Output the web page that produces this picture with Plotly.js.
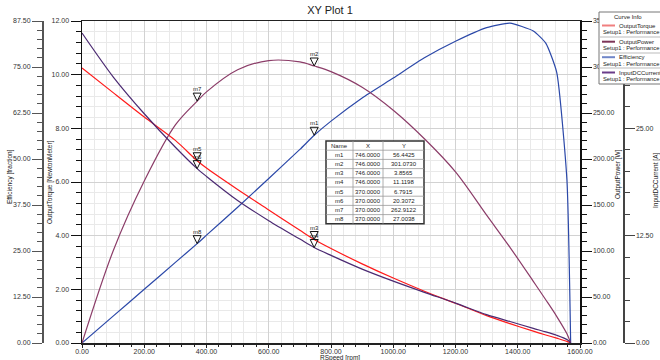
<!DOCTYPE html>
<html>
<head>
<meta charset="utf-8">
<script src="https://cdn.plot.ly/plotly-3.0.1.min.js"></script>
<style>
  html, body { margin: 0; padding: 0; background: #ffffff; }
  #chart { width: 660px; height: 360px; }
</style>
</head>
<body>
<div id="chart"></div>
<script>
// ---------- data ----------
const speed = [0, 100, 200, 300, 370, 400, 500, 600, 700, 746, 800, 900, 1000, 1100, 1200, 1300, 1375, 1450, 1490, 1525, 1558, 1570];
const outputTorque = [10.25, 9.33, 8.42, 7.55, 6.7915, 6.52, 5.72, 4.96, 4.20, 3.8565, 3.52, 2.95, 2.42, 1.93, 1.48, 1.02, 0.72, 0.44, 0.30, 0.18, 0.06, 0];
const outputPower = [0, 100, 176, 237, 262.9122, 273, 297, 307, 305.5, 301.0730, 295, 278, 253, 222, 186, 139, 104, 67, 47, 29, 10, 0];
const efficiency = [0, 7.3, 14.6, 21.9, 27.0038, 29.3, 36.9, 44.7, 52.6, 56.4425, 60.3, 66.6, 72.0, 77.5, 82.0, 85.7, 86.9, 84.8, 81.5, 73.6, 44.3, 0];
const inputDCCurrent = [36.1, 31.0, 26.7, 22.8, 20.3072, 19.4, 16.6, 14.25, 12.1, 11.1198, 10.2, 8.6, 7.2, 5.9, 4.65, 3.3, 2.5, 1.7, 1.3, 0.9, 0.4, 0];

const markerNames = ['m1', 'm2', 'm3', 'm4', 'm5', 'm6', 'm7', 'm8'];
const markerX = [746, 746, 746, 746, 370, 370, 370, 370];
const markerY = [56.4425, 301.0730, 3.8565, 11.1198, 6.7915, 20.3072, 262.9122, 27.0038];
const markerAxis = ['y2', 'y3', 'y', 'y4', 'y', 'y4', 'y3', 'y2'];
const tableHeader = ['Name', 'X', 'Y'];

const seriesNames = ['OutputTorque', 'OutputPower', 'Efficiency', 'InputDCCurrent'];
const setupLabel = 'Setup1 : Performance';
const seriesColors = ['#ff1a1a', '#8b3c68', '#2b48a8', '#4b2a72'];
const legendSwatchColors = ['#f07f7f', '#7d3558', '#6f86c8', '#6a3d8a'];

// ---------- helpers (pixel -> paper) ----------
const W = 660, PT = 21, PB = 343;
const px = v => v / W;
const py = v => (PB - v) / (PB - PT);

const FONT = 'Liberation Sans, Arial, sans-serif';

const traces = [
  {x: speed, y: outputTorque, yaxis: 'y', name: seriesNames[0], type: 'scatter', mode: 'lines', line: {color: seriesColors[0], width: 1.2, shape: 'spline', smoothing: 0.8}},
  {x: speed, y: outputPower, yaxis: 'y3', name: seriesNames[1], type: 'scatter', mode: 'lines', line: {color: seriesColors[1], width: 1.2, shape: 'spline', smoothing: 0.9}},
  {x: speed, y: efficiency, yaxis: 'y2', name: seriesNames[2], type: 'scatter', mode: 'lines', line: {color: seriesColors[2], width: 1.2, shape: 'spline', smoothing: 0.5}},
  {x: speed, y: inputDCCurrent, yaxis: 'y4', name: seriesNames[3], type: 'scatter', mode: 'lines', line: {color: seriesColors[3], width: 1.2, shape: 'spline', smoothing: 0.8}}
];

const tickFont = {family: FONT, size: 7, color: '#333'};
const commonY = {
  showline: true, ticks: 'outside', ticklen: 10, tickwidth: 1, zeroline: false,
  tickformat: '.2f', tickfont: tickFont, fixedrange: true
};

const layout = {
  width: 660, height: 360,
  margin: {l: 0, r: 0, t: PT, b: 360 - PB, pad: 0},
  paper_bgcolor: '#ffffff', plot_bgcolor: '#ffffff',
  showlegend: false,
  font: {family: FONT, size: 7, color: '#222'},
  title: {text: 'XY Plot 1', font: {family: FONT, size: 11, color: '#222'}, x: 0.5, xref: 'container', y: 1 - 10 / 360, yref: 'container', yanchor: 'middle'},
  xaxis: {
    domain: [px(82), px(580)], range: [0, 1600], dtick: 200, tickformat: '.2f',
    showline: true, linecolor: '#222', linewidth: 1.5, mirror: true,
    ticks: 'outside', ticklen: 3, tickcolor: '#222', zeroline: false,
    ticklabelstandoff: -2,
    showgrid: true, gridcolor: '#d2d2d2', gridwidth: 1,
    minor: {dtick: 40, ticks: 'outside', ticklen: 2, tickcolor: '#222', showgrid: true, gridcolor: '#e9e9e9', gridwidth: 1},
    tickfont: tickFont, fixedrange: true
  },
  yaxis: Object.assign({}, commonY, {
    range: [0, 12], dtick: 2, anchor: 'x', side: 'left',
    linecolor: '#111', linewidth: 1.5, tickcolor: '#111',
    showgrid: true, gridcolor: '#d2d2d2',
    minor: {dtick: 0.4, ticks: 'outside', ticklen: 5, tickcolor: '#111', showgrid: true, gridcolor: '#e9e9e9'}
  }),
  yaxis2: Object.assign({}, commonY, {
    range: [0, 87.5], dtick: 12.5, overlaying: 'y', anchor: 'free', position: px(43), side: 'left',
    linecolor: '#555', linewidth: 2, tickcolor: '#555', showgrid: false,
    minor: {dtick: 2.5, ticks: 'outside', ticklen: 5, tickcolor: '#555', showgrid: false}
  }),
  yaxis3: Object.assign({}, commonY, {
    range: [0, 350], dtick: 50, overlaying: 'y', anchor: 'x', side: 'right',
    linecolor: '#111', linewidth: 1.5, tickcolor: '#111', showgrid: false,
    minor: {dtick: 10, ticks: 'outside', ticklen: 5, tickcolor: '#111', showgrid: false}
  }),
  yaxis4: Object.assign({}, commonY, {
    range: [0, 37.5], dtick: 12.5, overlaying: 'y', anchor: 'free', position: px(623), side: 'right',
    linecolor: '#444', linewidth: 1.5, tickcolor: '#444', showgrid: false,
    minor: {dtick: 2.5, ticks: 'outside', ticklen: 5, tickcolor: '#444', showgrid: false}
  }),
  shapes: [],
  annotations: []
};

// axis titles
const axisTitles = [
  {text: 'Efficiency [fraction]', x: 10, y: 177},
  {text: 'OutputTorque [NewtonMeter]', x: 50, y: 182},
  {text: 'OutputPower [W]', x: 618, y: 174},
  {text: 'InputDCCurrent [A]', x: 656, y: 181}
];
axisTitles.forEach(t => layout.annotations.push({
  text: t.text, xref: 'paper', yref: 'paper', x: px(t.x), y: py(t.y), textangle: -90,
  showarrow: false, xanchor: 'center', yanchor: 'middle', font: {family: FONT, size: 6.5, color: '#222'}
}));
layout.annotations.push({
  text: 'RSpeed [rpm]', xref: 'paper', yref: 'paper', x: px(340), y: py(357.5),
  showarrow: false, xanchor: 'center', yanchor: 'middle', font: {family: FONT, size: 6.5, color: '#222'}
});

// marker triangles + labels
markerNames.forEach((n, i) => {
  layout.shapes.push({
    type: 'path', layer: 'above', xref: 'x', yref: markerAxis[i],
    xsizemode: 'pixel', ysizemode: 'pixel', xanchor: markerX[i], yanchor: markerY[i],
    path: 'M -4,8 L 4,8 L 0,0 Z', line: {color: '#111', width: 1}, fillcolor: 'rgba(0,0,0,0)'
  });
  layout.annotations.push({
    text: n, xref: 'x', yref: markerAxis[i], x: markerX[i], y: markerY[i], yshift: 12,
    showarrow: false, xanchor: 'center', yanchor: 'middle', font: {family: FONT, size: 6, color: '#222'}
  });
});

// marker table (Name / X / Y)
const colEdges = [326, 353, 383, 424];
const tTop = 141, rowH = 9.2, nRows = markerNames.length + 1;
const tBottom = tTop + rowH * nRows;
layout.shapes.push({type: 'rect', layer: 'above', xref: 'paper', yref: 'paper',
  x0: px(colEdges[0]), x1: px(colEdges[3]), y0: py(tBottom), y1: py(tTop),
  fillcolor: '#ffffff', line: {color: '#333', width: 1.5}});
for (let r = 1; r < nRows; r++) {
  layout.shapes.push({type: 'line', layer: 'above', xref: 'paper', yref: 'paper',
    x0: px(colEdges[0]), x1: px(colEdges[3]), y0: py(tTop + r * rowH), y1: py(tTop + r * rowH),
    line: {color: '#999', width: 0.8}});
}
[1, 2].forEach(c => layout.shapes.push({type: 'line', layer: 'above', xref: 'paper', yref: 'paper',
  x0: px(colEdges[c]), x1: px(colEdges[c]), y0: py(tBottom), y1: py(tTop), line: {color: '#999', width: 0.8}}));
const tableCols = [markerNames, markerX.map(v => v.toFixed(4)), markerY.map(v => v.toFixed(4))];
tableCols.forEach((col, c) => {
  const cx = (colEdges[c] + colEdges[c + 1]) / 2;
  [tableHeader[c]].concat(col).forEach((txt, r) => layout.annotations.push({
    text: txt, xref: 'paper', yref: 'paper', x: px(cx), y: py(tTop + (r + 0.5) * rowH),
    showarrow: false, xanchor: 'center', yanchor: 'middle', font: {family: FONT, size: 6, color: '#222'}
  }));
});

// legend box (Curve Info)
layout.shapes.push({type: 'rect', layer: 'above', xref: 'paper', yref: 'paper',
  x0: px(599), x1: px(664), y0: py(84), y1: py(12), fillcolor: '#ffffff', line: {color: '#777', width: 1}});
[37, 53, 68].forEach(yy => layout.shapes.push({type: 'line', layer: 'above', xref: 'paper', yref: 'paper',
  x0: px(599), x1: px(664), y0: py(yy), y1: py(yy), line: {color: '#bbb', width: 1}}));
layout.annotations.push({text: 'Curve Info', xref: 'paper', yref: 'paper', x: px(628), y: py(17.5),
  showarrow: false, xanchor: 'center', yanchor: 'middle', font: {family: FONT, size: 6, color: '#222'}});
const legendRows = [25.5, 41.7, 57.2, 72.5];
seriesNames.forEach((n, i) => {
  const yy = legendRows[i];
  layout.shapes.push({type: 'line', layer: 'above', xref: 'paper', yref: 'paper',
    x0: px(602), x1: px(615), y0: py(yy), y1: py(yy), line: {color: legendSwatchColors[i], width: 2}});
  layout.annotations.push({text: n, xref: 'paper', yref: 'paper', x: px(617), y: py(yy),
    showarrow: false, xanchor: 'left', yanchor: 'middle', font: {family: FONT, size: 6, color: '#222'}});
  layout.annotations.push({text: setupLabel, xref: 'paper', yref: 'paper', x: px(601), y: py(yy + 6.3),
    showarrow: false, xanchor: 'left', yanchor: 'middle', font: {family: FONT, size: 5.8, color: '#222'}});
});

Plotly.newPlot('chart', traces, layout, {displayModeBar: false, staticPlot: true});
</script>
</body>
</html>
